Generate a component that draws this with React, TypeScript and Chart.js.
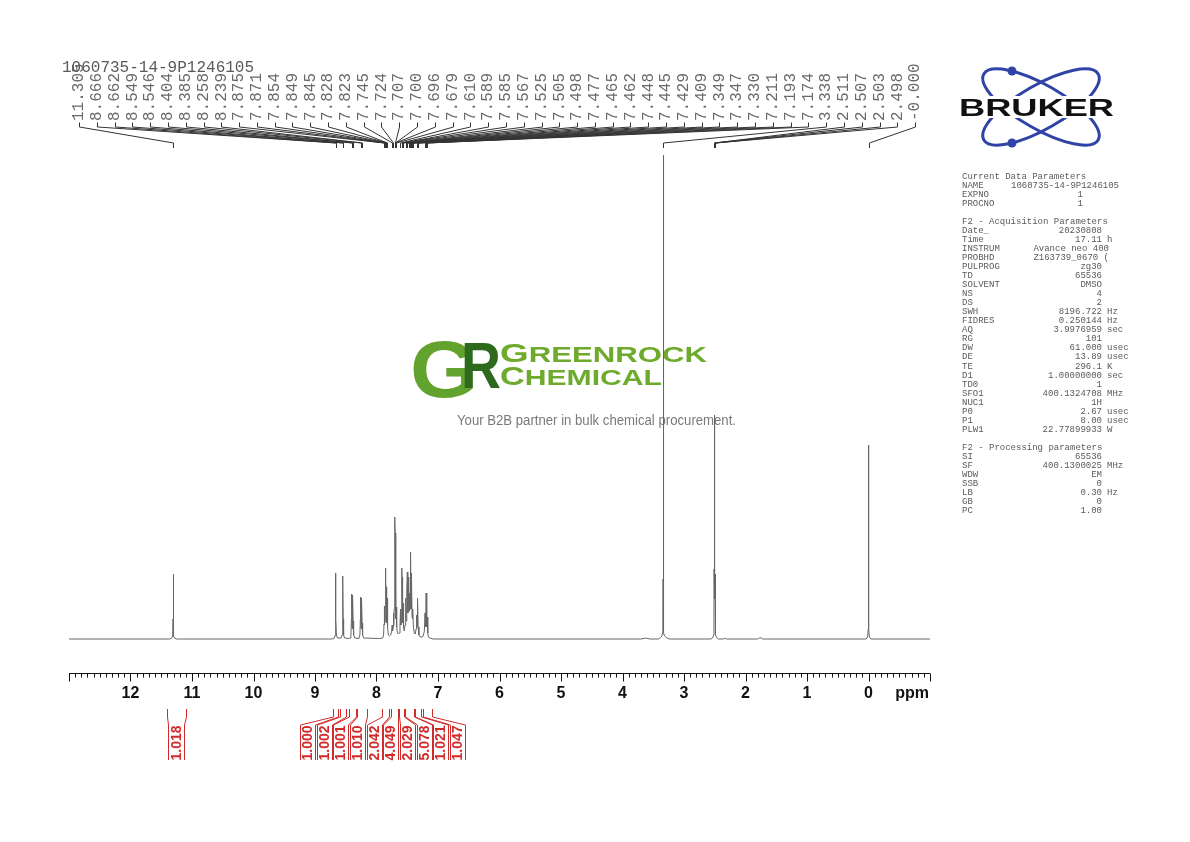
import React, { useEffect, useRef } from "react";
import { Chart, registerables } from "chart.js";
Chart.register(...registerables);

// ---------- spectrum data: [ppm, intensity] ----------
const nhSignal: number[][] = [
  [13.0, 0], [11.36, 0], [11.33, 0.8], [11.315, 3], [11.308, 20], [11.305, 65],
  [11.302, 20], [11.295, 3], [11.28, 0.8], [11.25, 0],
];
const downfieldSignals: number[][] = [
  [8.72, 0], [8.685, 1], [8.672, 4], [8.668, 30], [8.666, 66], [8.662, 60], [8.659, 20], [8.652, 4], [8.635, 1],
  [8.575, 1], [8.56, 4], [8.552, 30], [8.549, 63], [8.546, 58], [8.542, 20], [8.535, 4], [8.52, 1], [8.45, 0.5],
  [8.43, 1], [8.416, 4], [8.408, 20], [8.404, 45], [8.398, 12], [8.394, 10], [8.39, 15], [8.385, 44], [8.38, 18], [8.372, 4], [8.355, 1], [8.3, 0.5],
  [8.285, 1], [8.27, 4], [8.262, 20], [8.258, 42], [8.252, 11], [8.248, 10], [8.244, 14], [8.239, 41], [8.234, 16], [8.226, 4], [8.21, 1], [7.95, 0.5],
];
const aromaticSignals: number[][] = [
  [7.9, 1], [7.885, 4], [7.878, 15], [7.875, 30], [7.871, 33], [7.866, 14], [7.86, 18], [7.854, 71], [7.849, 55], [7.845, 52],
  [7.838, 16], [7.833, 18], [7.828, 41], [7.823, 38], [7.817, 12], [7.808, 4], [7.79, 3], [7.77, 4], [7.755, 7], [7.745, 14],
  [7.738, 8], [7.73, 12], [7.724, 26], [7.718, 14], [7.712, 30], [7.707, 85], [7.703, 72], [7.7, 122], [7.696, 106], [7.69, 28],
  [7.684, 20], [7.679, 32], [7.672, 12], [7.66, 6], [7.645, 5], [7.63, 6], [7.618, 14], [7.61, 30], [7.603, 14], [7.596, 20],
  [7.589, 71], [7.585, 62], [7.579, 18], [7.573, 16], [7.567, 36], [7.56, 12], [7.55, 8], [7.535, 14], [7.525, 41], [7.518, 18],
  [7.511, 24], [7.505, 50], [7.498, 67], [7.491, 26], [7.484, 28], [7.477, 62], [7.471, 28], [7.465, 42], [7.462, 46], [7.455, 30],
  [7.448, 50], [7.445, 87], [7.438, 30], [7.434, 32], [7.429, 66], [7.422, 22], [7.415, 20], [7.409, 30], [7.4, 12], [7.385, 6],
  [7.37, 5], [7.357, 10], [7.349, 24], [7.347, 22], [7.34, 12], [7.336, 14], [7.33, 41], [7.323, 12], [7.31, 4], [7.29, 2],
  [7.26, 2], [7.24, 3], [7.222, 8], [7.211, 26], [7.203, 12], [7.199, 14], [7.193, 46], [7.186, 14], [7.18, 12], [7.174, 22],
  [7.166, 6], [7.155, 2], [7.13, 1], [7.08, 0],
];
const impuritySignals: number[][] = [
  [3.7, 0], [3.63, 0.8], [3.61, 0.8], [3.55, 0],
  [2.36, 0], [2.33, 0.8], [2.31, 0],
  [1.8, 0], [1.77, 1.2], [1.75, 1.2], [1.72, 0],
];
const waterSignal: number[][] = [
  [3.42, 0], [3.38, 1.5], [3.36, 3], [3.35, 6], [3.344, 16], [3.34, 60], [3.338, 484],
  [3.336, 60], [3.332, 16], [3.326, 6], [3.315, 3], [3.29, 1.5], [3.24, 0],
];
const dmsoSignal: number[][] = [
  [2.56, 0], [2.53, 1.5], [2.518, 4], [2.513, 20], [2.511, 70], [2.509, 40], [2.507, 150], [2.505, 90],
  [2.503, 224], [2.501, 90], [2.498, 145], [2.496, 40], [2.494, 65], [2.491, 18], [2.485, 4], [2.47, 1.5], [2.44, 0],
];
const tmsSignal: number[][] = [
  [0.04, 0], [0.015, 2], [0.005, 10], [0.0, 194], [-0.005, 10], [-0.015, 2], [-0.04, 0], [-1.0, 0],
];

// ---------- peak picking labels ----------
const peakLabels = [
  "11.305", "8.666", "8.662", "8.549", "8.546", "8.404", "8.385", "8.258", "8.239", "7.875", "7.871", "7.854",
  "7.849", "7.845", "7.828", "7.823", "7.745", "7.724", "7.707", "7.700", "7.696", "7.679", "7.610", "7.589",
  "7.585", "7.567", "7.525", "7.505", "7.498", "7.477", "7.465", "7.462", "7.448", "7.445", "7.429", "7.409",
  "7.349", "7.347", "7.330", "7.211", "7.193", "7.174", "3.338", "2.511", "2.507", "2.503", "2.498", "-0.000",
];

// ---------- integrals ----------
const integralValues = ["1.018", "1.000", "1.002", "1.001", "1.010", "2.042", "4.049", "2.029", "5.078", "1.021", "1.047"];
const integralFrom = [11.41, 8.7, 8.59, 8.45, 8.31, 7.91, 7.77, 7.64, 7.54, 7.37, 7.25];
const integralTo = [11.09, 8.62, 8.5, 8.34, 8.15, 7.79, 7.65, 7.545, 7.39, 7.27, 7.09];

// ---------- axis ----------
const axisMin = -1;
const axisMax = 13;
const axisTickLabels = [0, 1, 2, 3, 4, 5, 6, 7, 8, 9, 10, 11, 12];

// ---------- parameters ----------
const sampleName = "1060735-14-9P1246105";
const currentParams = [["NAME", "1060735-14-9P1246105", ""], ["EXPNO", "1", ""], ["PROCNO", "1", ""]];
const acqParams = [
  ["Date_", "20230808", ""], ["Time", "17.11", "h"], ["INSTRUM", "Avance neo 400", ""], ["PROBHD", "Z163739_0670 (", ""],
  ["PULPROG", "zg30", ""], ["TD", "65536", ""], ["SOLVENT", "DMSO", ""], ["NS", "4", ""], ["DS", "2", ""],
  ["SWH", "8196.722", "Hz"], ["FIDRES", "0.250144", "Hz"], ["AQ", "3.9976959", "sec"], ["RG", "101", ""],
  ["DW", "61.000", "usec"], ["DE", "13.89", "usec"], ["TE", "296.1", "K"], ["D1", "1.00000000", "sec"],
  ["TD0", "1", ""], ["SFO1", "400.1324708", "MHz"], ["NUC1", "1H", ""], ["P0", "2.67", "usec"],
  ["P1", "8.00", "usec"], ["PLW1", "22.77899933", "W"],
];
const procParams = [
  ["SI", "65536", ""], ["SF", "400.1300025", "MHz"], ["WDW", "EM", ""], ["SSB", "0", ""],
  ["LB", "0.30", "Hz"], ["GB", "0", ""], ["PC", "1.00", ""],
];

const MONO = "'Liberation Mono', 'DejaVu Sans Mono', monospace";
const SANS = "'Liberation Sans', Arial, sans-serif";

function stretchText(ctx: CanvasRenderingContext2D, parts: [string, string][], x: number, y: number, width: number, color: string) {
  let total = 0;
  const ws: number[] = [];
  for (const [t, f] of parts) { ctx.font = f; const w = ctx.measureText(t).width; ws.push(w); total += w; }
  ctx.save();
  ctx.translate(x, y);
  ctx.scale(width / total, 1);
  ctx.fillStyle = color;
  ctx.textAlign = "left";
  ctx.textBaseline = "alphabetic";
  let cx = 0;
  parts.forEach(([t, f], i) => { ctx.font = f; ctx.fillText(t, cx, 0); cx += ws[i]; });
  ctx.restore();
}

const overlayPlugin = {
  id: "nmrOverlay",
  beforeDatasetsDraw(chart: any) {
    const ctx: CanvasRenderingContext2D = chart.ctx;
    ctx.save();
    // watermark logo
    stretchText(ctx, [["G", `bold 80px ${SANS}`]], 410, 397, 68, "#62a32e");
    stretchText(ctx, [["R", `bold 64px ${SANS}`]], 461, 388, 40, "#2d6a1e");
    stretchText(ctx, [["G", `bold 26px ${SANS}`], ["REENROCK", `bold 22px ${SANS}`]], 500, 362, 207, "#6eaa2c");
    stretchText(ctx, [["C", `bold 25px ${SANS}`], ["HEMICAL", `bold 22px ${SANS}`]], 500, 385, 162, "#6eaa2c");
    stretchText(ctx, [["Your B2B partner in bulk chemical procurement.", `14px ${SANS}`]], 457, 425, 279, "#7a7a7a");
    ctx.restore();
  },
  afterDraw(chart: any) {
    const ctx: CanvasRenderingContext2D = chart.ctx;
    const xs = chart.scales.x;
    const area = chart.chartArea;
    const px = (v: number) => xs.getPixelForValue(v);
    ctx.save();

    // x axis
    const ay = Math.round(area.bottom) + 0.5;
    ctx.strokeStyle = "#111";
    ctx.lineWidth = 1;
    ctx.beginPath();
    ctx.moveTo(px(axisMax), ay);
    ctx.lineTo(px(axisMin), ay);
    for (let i = axisMin * 10; i <= axisMax * 10; i++) {
      const x = Math.round(px(i / 10)) + 0.5;
      const len = i % 10 === 0 ? 8 : 4;
      ctx.moveTo(x, ay);
      ctx.lineTo(x, ay + len);
    }
    ctx.stroke();
    ctx.fillStyle = "#111";
    ctx.font = `bold 16px ${SANS}`;
    ctx.textAlign = "center";
    ctx.textBaseline = "middle";
    axisTickLabels.forEach((v) => ctx.fillText(String(v), px(v), ay + 20));
    ctx.textAlign = "right";
    ctx.fillText("ppm", px(axisMin) - 1, ay + 20);

    // peak labels and brackets
    const step = 17.79;
    ctx.strokeStyle = "#333";
    ctx.beginPath();
    peakLabels.forEach((lab, i) => {
      const xl = Math.round(79 + i * step) + 0.5;
      const xp = Math.round(px(parseFloat(lab))) + 0.5;
      ctx.moveTo(xl, 122.5);
      ctx.lineTo(xl, 127);
      ctx.lineTo(xp, 143);
      ctx.lineTo(xp, 148);
    });
    ctx.stroke();
    ctx.fillStyle = "#6a6a6a";
    ctx.font = `16px ${MONO}`;
    ctx.textAlign = "left";
    ctx.textBaseline = "middle";
    peakLabels.forEach((lab, i) => {
      const xl = 79 + i * step;
      ctx.save();
      ctx.translate(xl, 121);
      ctx.rotate(-Math.PI / 2);
      ctx.fillText(lab, 0, 0);
      ctx.restore();
    });

    // title
    ctx.fillStyle = "#5a5a5a";
    ctx.font = `16px ${MONO}`;
    ctx.textAlign = "left";
    ctx.textBaseline = "alphabetic";
    ctx.fillText(sampleName, 62, 72);

    // integrals
    ctx.strokeStyle = "#d02a2a";
    ctx.fillStyle = "#d02a2a";
    ctx.lineWidth = 1;
    ctx.font = `bold 14px ${SANS}`;
    integralValues.forEach((val, i) => {
      const xa = Math.round(px(integralFrom[i])) + 0.5;
      const xb = Math.round(px(integralTo[i])) + 0.5;
      let bl: number, br: number;
      if (i === 0) { bl = 168.5; br = 184.5; }
      else { bl = Math.round(300 + (i - 1) * 16.67) + 0.5; br = bl + 15; }
      ctx.beginPath();
      ctx.moveTo(xa, 709); ctx.lineTo(xa, 717); ctx.lineTo(bl, 725); ctx.lineTo(bl, 760);
      ctx.moveTo(xb, 709); ctx.lineTo(xb, 717); ctx.lineTo(br, 725); ctx.lineTo(br, 760);
      ctx.stroke();
      ctx.save();
      ctx.translate((bl + br) / 2 + 0.5, 743);
      ctx.rotate(-Math.PI / 2);
      ctx.textAlign = "center";
      ctx.textBaseline = "middle";
      ctx.fillText(val, 0, 0);
      ctx.restore();
    });

    // parameter block
    ctx.fillStyle = "#5a5a5a";
    ctx.font = `9px ${MONO}`;
    ctx.textBaseline = "middle";
    const lh = 9.02;
    const y0 = 176.7;
    const rows: { name: string; value?: string; unit?: string; right?: number }[] = [];
    rows.push({ name: "Current Data Parameters" });
    currentParams.forEach(([n, v], k) => rows.push({ name: n, value: v, unit: "", right: k === 0 ? 1119 : 1083 }));
    rows.push({ name: "" });
    rows.push({ name: "F2 - Acquisition Parameters" });
    acqParams.forEach(([n, v, u]) => rows.push({ name: n, value: v, unit: u, right: v.length >= 14 ? 1109 : 1102 }));
    rows.push({ name: "" });
    rows.push({ name: "F2 - Processing parameters" });
    procParams.forEach(([n, v, u]) => rows.push({ name: n, value: v, unit: u, right: 1102 }));
    rows.forEach((r, k) => {
      const y = y0 + k * lh;
      ctx.textAlign = "left";
      if (r.name) ctx.fillText(r.name, 962, y);
      if (r.value) {
        ctx.textAlign = "right";
        ctx.fillText(r.value, r.right as number, y);
      }
      if (r.unit) {
        ctx.textAlign = "left";
        ctx.fillText(r.unit, 1107, y);
      }
    });

    // Bruker logo
    ctx.strokeStyle = "#2f44a6";
    ctx.lineWidth = 3;
    [Math.PI / 6, -Math.PI / 6].forEach((ang) => {
      ctx.beginPath();
      ctx.ellipse(1041, 107, 66, 22, ang, 0, Math.PI * 2);
      ctx.stroke();
    });
    ctx.fillStyle = "#2f44a6";
    [[1012, 71], [1012, 143]].forEach(([x, y]) => {
      ctx.beginPath();
      ctx.arc(x, y, 4.5, 0, Math.PI * 2);
      ctx.fill();
    });
    ctx.fillStyle = "#fff";
    ctx.fillRect(956, 96, 162, 22);
    stretchText(ctx, [["BRUKER", `bold 24px ${SANS}`]], 959, 116, 155, "#111");

    ctx.restore();
  },
};

export default function App() {
  const ref = useRef<HTMLCanvasElement | null>(null);
  useEffect(() => {
    if (!ref.current) return;
    const pts = [...nhSignal, ...downfieldSignals, ...aromaticSignals, ...impuritySignals, ...waterSignal, ...dmsoSignal, ...tmsSignal]
      .sort((a, b) => b[0] - a[0])
      .map(([x, y]) => ({ x, y }));
    const chart = new Chart(ref.current, {
      type: "line",
      data: {
        datasets: [{
          data: pts,
          borderColor: "#666666",
          borderWidth: 1,
          pointRadius: 0,
          tension: 0,
          fill: false,
        }],
      },
      options: {
        responsive: false,
        animation: false,
        devicePixelRatio: 1,
        layout: { padding: { left: 69, right: 260, top: 149, bottom: 169 } },
        scales: {
          x: { type: "linear", min: axisMin, max: axisMax, reverse: true, display: false },
          y: { type: "linear", min: -34, max: 490, display: false },
        },
        plugins: { legend: { display: false }, tooltip: { enabled: false } },
      },
      plugins: [overlayPlugin],
    } as any);
    return () => chart.destroy();
  }, []);
  return (
    <div style={{ position: "absolute", left: 0, top: 0, width: 1190, height: 842, background: "#fff" }}>
      <canvas ref={ref} width={1190} height={842} style={{ display: "block" }} />
    </div>
  );
}
